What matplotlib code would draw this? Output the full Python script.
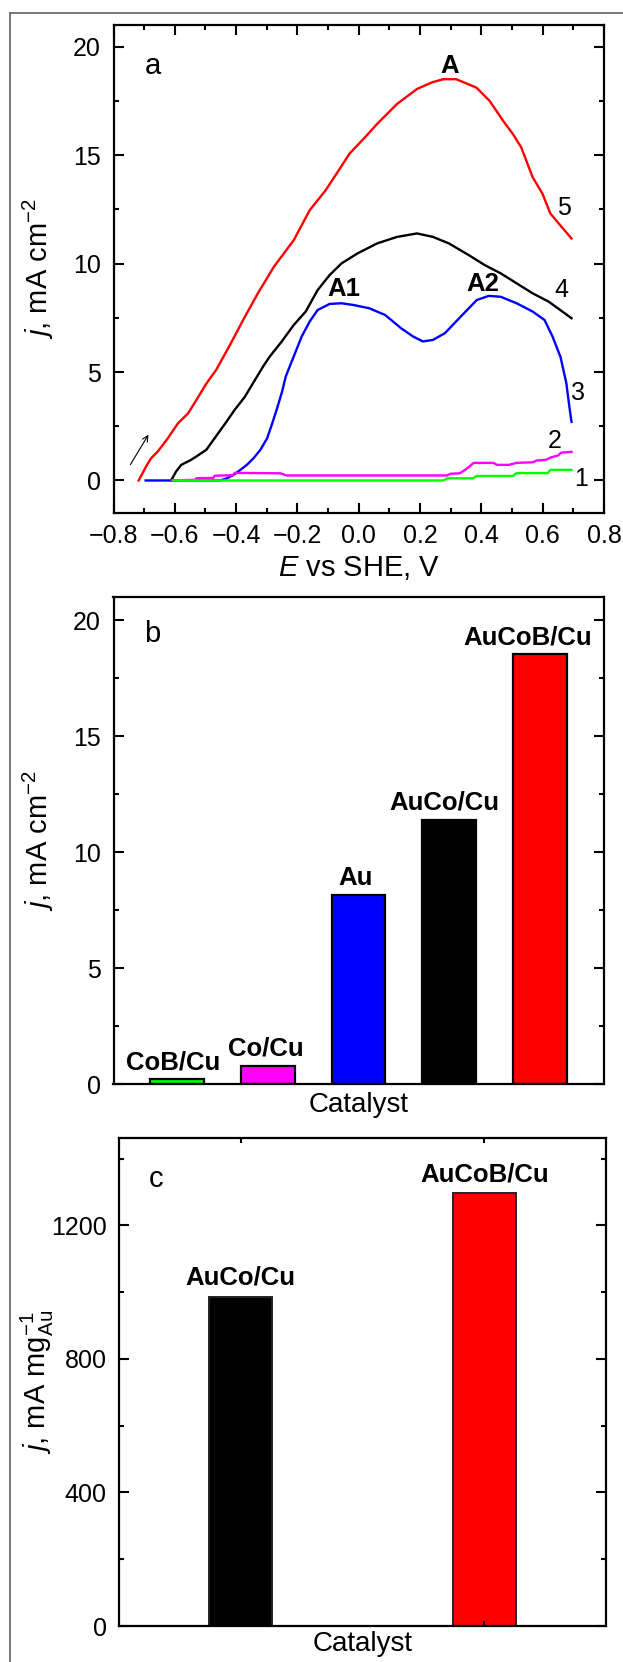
import matplotlib
matplotlib.use("Agg")
import matplotlib.pyplot as plt
from matplotlib.lines import Line2D
from matplotlib.ticker import MultipleLocator

plt.rcParams['font.family'] = ['Liberation Sans', 'DejaVu Sans']
plt.rcParams['mathtext.fontset'] = 'custom'
plt.rcParams['mathtext.rm'] = 'Liberation Sans'
plt.rcParams['mathtext.it'] = 'Liberation Sans:italic'
plt.rcParams['mathtext.bf'] = 'Liberation Sans:bold'

# ---- panel a: voltammetric curves (E vs SHE, V ; j, mA cm-2) ----
e5 = [-0.718, -0.705, -0.694, -0.677, -0.656, -0.639, -0.623, -0.590, -0.557, -0.530,
      -0.497, -0.465, -0.420, -0.374, -0.329, -0.277, -0.212, -0.160, -0.108, -0.069,
      -0.030, 0.021, 0.060, 0.125, 0.190, 0.240, 0.276, 0.318, 0.384, 0.427, 0.471,
      0.503, 0.530, 0.567, 0.599, 0.625, 0.657, 0.694]
j5 = [0.0, 0.34, 0.64, 1.03, 1.33, 1.64, 1.94, 2.63, 3.09, 3.70,
      4.47, 5.10, 6.25, 7.48, 8.63, 9.85, 11.08, 12.46, 13.38, 14.22,
      15.07, 15.83, 16.44, 17.36, 18.05, 18.36, 18.50, 18.50, 18.11, 17.50, 16.58,
      15.97, 15.36, 13.99, 13.23, 12.31, 11.77, 11.16]

e4 = [-0.612, -0.596, -0.579, -0.547, -0.525, -0.497, -0.470, -0.437, -0.405, -0.372,
      -0.340, -0.310, -0.290, -0.251, -0.212, -0.173, -0.134, -0.095, -0.056, -0.004,
      0.060, 0.125, 0.190, 0.242, 0.294, 0.359, 0.411, 0.463, 0.515, 0.567, 0.619,
      0.664, 0.694]
j4 = [0.0, 0.41, 0.72, 0.95, 1.15, 1.42, 1.95, 2.60, 3.25, 3.85,
      4.60, 5.30, 5.72, 6.41, 7.17, 7.79, 8.78, 9.47, 10.01, 10.47,
      10.93, 11.23, 11.39, 11.23, 10.93, 10.39, 9.93, 9.55, 9.09, 8.63, 8.25,
      7.79, 7.48]

e3 = [-0.695, -0.452, -0.430, -0.408, -0.386, -0.365, -0.343, -0.321, -0.299, -0.283,
      -0.267, -0.250, -0.238, -0.212, -0.186, -0.160, -0.134, -0.095, -0.056, -0.017,
      0.034, 0.086, 0.138, 0.177, 0.209, 0.242, 0.281, 0.333, 0.385, 0.424, 0.463,
      0.515, 0.567, 0.606, 0.632, 0.658, 0.677, 0.688, 0.694]
j3 = [0.0, 0.0, 0.10, 0.26, 0.49, 0.72, 1.03, 1.41, 1.94, 2.60,
      3.30, 4.10, 4.80, 5.72, 6.64, 7.33, 7.86, 8.14, 8.17, 8.09,
      7.94, 7.63, 7.02, 6.64, 6.41, 6.48, 6.79, 7.56, 8.32, 8.51, 8.47,
      8.17, 7.79, 7.40, 6.64, 5.70, 4.50, 3.30, 2.70]

e2 = [-0.610, -0.534, -0.530, -0.474, -0.470, -0.410, -0.405, -0.256, -0.235, 0.287,
      0.300, 0.330, 0.350, 0.375, 0.440, 0.450, 0.490, 0.514, 0.569, 0.580,
      0.610, 0.628, 0.650, 0.660, 0.694]
j2 = [0.0, 0.03, 0.10, 0.12, 0.22, 0.24, 0.35, 0.33, 0.23, 0.23,
      0.31, 0.33, 0.52, 0.81, 0.81, 0.72, 0.72, 0.81, 0.84, 0.92,
      0.95, 1.07, 1.15, 1.28, 1.32]

e1 = [-0.605, 0.275, 0.290, 0.373, 0.385, 0.503, 0.515, 0.617, 0.625, 0.694]
j1 = [0.0, 0.0, 0.10, 0.10, 0.21, 0.21, 0.34, 0.34, 0.49, 0.49]

xticks_a = [-0.8, -0.6, -0.4, -0.2, 0.0, 0.2, 0.4, 0.6, 0.8]
xticklabels_a = ['\u22120.8', '\u22120.6', '\u22120.4', '\u22120.2', '0.0', '0.2', '0.4', '0.6', '0.8']
yticks_a = [0, 5, 10, 15, 20]

# ---- panel b: current density per catalyst ----
catalysts_b = ['CoB/Cu', 'Co/Cu', 'Au', 'AuCo/Cu', 'AuCoB/Cu']
values_b = [0.2, 0.78, 8.16, 11.4, 18.53]
colors_b = ['#00ff00', '#ff00ff', '#0000ff', '#000000', '#ff0000']

# ---- panel c: mass activity ----
catalysts_c = ['AuCo/Cu', 'AuCoB/Cu']
values_c = [986, 1296]
colors_c = ['#000000', '#ff0000']
yticks_c = [0, 400, 800, 1200]

W, H = 623, 1662
fig = plt.figure(figsize=(W / 100, H / 100), dpi=100)


def box(l, t, r, b):
    return [l / W, 1 - b / H, (r - l) / W, (b - t) / H]


ax_a = fig.add_axes(box(113.5, 25, 604, 513))
ax_b = fig.add_axes(box(113.5, 597, 603.5, 1084))
ax_c = fig.add_axes(box(119, 1138, 606, 1626))

tick_fs = 18
lab_fs = 21
bar_fs = 18.5

for ax in (ax_a, ax_b, ax_c):
    for s in ax.spines.values():
        s.set_linewidth(1.6)
    ax.tick_params(which='both', direction='in', top=True, right=True,
                   labelsize=tick_fs, width=1.5)
    ax.tick_params(which='major', length=7)
    ax.tick_params(which='minor', length=3.5)
    ax.tick_params(axis='y', pad=9)
    ax.tick_params(axis='x', pad=8)

# panel a
ax_a.plot(e5, j5, color='#ff0000', lw=1.7)
ax_a.plot(e4, j4, color='#000000', lw=1.7)
ax_a.plot(e3, j3, color='#0000ff', lw=1.7)
ax_a.plot(e2, j2, color='#ff00ff', lw=1.7)
ax_a.plot(e1, j1, color='#00ff00', lw=1.7)
ax_a.set_xlim(-0.8, 0.8)
ax_a.set_ylim(-1.5, 21)
ax_a.set_xticks(xticks_a)
ax_a.set_xticklabels(xticklabels_a)
ax_a.xaxis.set_minor_locator(MultipleLocator(0.1))
ax_a.set_yticks(yticks_a)
ax_a.yaxis.set_minor_locator(MultipleLocator(2.5))
ax_a.set_xlabel(r'$E$ vs SHE, V', fontsize=lab_fs)
ax_a.xaxis.set_label_coords(0.5, -0.083)
ax_a.set_ylabel(r'$j$, mA cm$^{-2}$', fontsize=lab_fs)
ax_a.yaxis.set_label_coords(-0.118, 0.5)
ax_a.text(-0.67, 19.1, 'a', fontsize=21, ha='center', va='center')
ax_a.text(0.297, 19.1, 'A', fontsize=bar_fs, fontweight='bold', ha='center', va='center')
ax_a.text(-0.05, 8.85, 'A1', fontsize=bar_fs, fontweight='bold', ha='center', va='center')
ax_a.text(0.404, 9.05, 'A2', fontsize=bar_fs, fontweight='bold', ha='center', va='center')
for lbl, x, y in [('5', 0.670, 12.55), ('4', 0.661, 8.8), ('3', 0.716, 4.03),
                  ('2', 0.638, 1.81), ('1', 0.725, 0.05)]:
    ax_a.text(x, y, lbl, fontsize=18, ha='center', va='center')
ax_a.annotate('', xy=(-0.686, 2.11), xytext=(-0.745, 0.73),
              arrowprops=dict(arrowstyle='->', lw=0.8, color='black',
                              shrinkA=0, shrinkB=0))

# panel b
pos_b = list(range(1, len(values_b) + 1))
ax_b.bar(pos_b, values_b, width=0.595, color=colors_b, edgecolor='black', linewidth=1.6)
ax_b.set_xlim(0.3, 5.7)
ax_b.set_ylim(0, 21)
ax_b.set_xticks([])
ax_b.set_yticks(yticks_a)
ax_b.yaxis.set_minor_locator(MultipleLocator(2.5))
label_dx = [-0.04, -0.02, -0.03, -0.05, -0.14]
for p, v, name, dx in zip(pos_b, values_b, catalysts_b, label_dx):
    ax_b.text(p + dx, v + 0.43, name, fontsize=bar_fs, fontweight='bold',
              ha='center', va='baseline')
ax_b.set_xlabel('Catalyst', fontsize=20)
ax_b.xaxis.set_label_coords(0.5, -0.016)
ax_b.set_ylabel(r'$j$, mA cm$^{-2}$', fontsize=lab_fs)
ax_b.yaxis.set_label_coords(-0.118, 0.5)
ax_b.text(0.73, 19.4, 'b', fontsize=21, ha='center', va='center')

# panel c
pos_c = list(range(1, len(values_c) + 1))
ax_c.bar(pos_c, values_c, width=0.26, color=colors_c, edgecolor='#222222', linewidth=1.4)
ax_c.set_xlim(0.5, 2.5)
ax_c.set_ylim(0, 1462)
ax_c.set_xticks(pos_c)
ax_c.set_xticklabels([])
ax_c.tick_params(axis='x', which='major', length=3.5)
ax_c.set_yticks(yticks_c)
ax_c.yaxis.set_minor_locator(MultipleLocator(200))
for p, v, name in zip(pos_c, values_c, catalysts_c):
    ax_c.text(p, v + 36, name, fontsize=bar_fs, fontweight='bold',
              ha='center', va='baseline')
ax_c.set_xlabel('Catalyst', fontsize=20)
ax_c.xaxis.set_label_coords(0.5, -0.010)
ax_c.set_ylabel(r'$j$, mA mg$^{-1}_{\mathrm{Au}}$', fontsize=lab_fs)
ax_c.yaxis.set_label_coords(-0.13, 0.5)
ax_c.text(0.653, 1340, 'c', fontsize=21, ha='center', va='center')

# outer frame (left and top edges)
fig.add_artist(Line2D([9.5 / W, 9.5 / W], [0, 1 - 12.5 / H], transform=fig.transFigure,
                      color='#6e6e6e', lw=1.3))
fig.add_artist(Line2D([9.5 / W, 1], [1 - 12.5 / H, 1 - 12.5 / H], transform=fig.transFigure,
                      color='#6e6e6e', lw=1.3))

fig.savefig('out.png', dpi=100)
